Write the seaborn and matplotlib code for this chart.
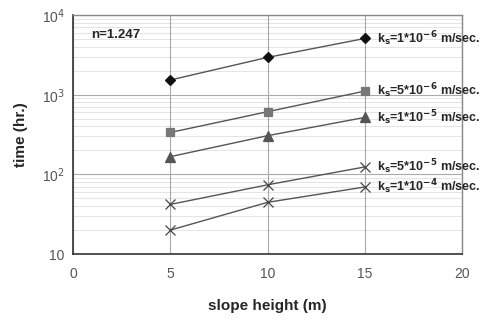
import numpy as np
import pandas as pd
import seaborn as sns
import matplotlib.pyplot as plt
from matplotlib.ticker import FixedLocator, FixedFormatter, LogLocator, NullFormatter

sns.set_style("white")
plt.rcParams['font.family'] = ['Liberation Sans', 'DejaVu Sans']

heights = [5, 10, 15]
t_1e6 = [1530, 2940, 5080]
t_5e6 = [336, 612, 1110]
t_1e5 = [167, 306, 519]
t_5e5 = [42, 74, 124]
t_1e4 = [20, 44.6, 69.5]

labels = [r"k$_\mathbf{s}$=1*10$^{\mathbf{-6}}$ m/sec.",
          r"k$_\mathbf{s}$=5*10$^{\mathbf{-6}}$ m/sec.",
          r"k$_\mathbf{s}$=1*10$^{\mathbf{-5}}$ m/sec.",
          r"k$_\mathbf{s}$=5*10$^{\mathbf{-5}}$ m/sec.",
          r"k$_\mathbf{s}$=1*10$^{\mathbf{-4}}$ m/sec."]
series = [t_1e6, t_5e6, t_1e5, t_5e5, t_1e4]
markers = ['D', 's', '^', 'x', 'x']
mcolors = ['#111111', '#777777', '#555555', '#444444', '#444444']
msizes = [5, 6, 7, 7, 7]

fig = plt.figure(figsize=(5.01, 3.2), dpi=100)
ax = fig.add_axes([0.146, 0.206, 0.776, 0.747])

for vals, lab, m, c, s in zip(series, labels, markers, mcolors, msizes):
    df = pd.DataFrame({'h': heights, 't': vals})
    sns.lineplot(data=df, x='h', y='t', ax=ax, color='#555555', lw=1.0,
                 marker=m, markersize=s, markerfacecolor=c, markeredgecolor=c,
                 markeredgewidth=0.9)
    ax.text(heights[-1] + 0.65, vals[-1], lab, fontsize=9, fontweight='bold',
            va='center', ha='left', clip_on=False)

ax.set_yscale('log')
ax.set_xlim(0, 20)
ax.set_ylim(10, 1e4)
ax.set_xticks([0, 5, 10, 15, 20])
ax.yaxis.set_major_locator(FixedLocator([10, 100, 1000, 10000]))
ax.yaxis.set_major_formatter(FixedFormatter(['10', r'10$^2$', r'10$^3$', r'10$^4$']))
ax.yaxis.set_minor_locator(LogLocator(base=10, subs=np.arange(2, 10)))
ax.yaxis.set_minor_formatter(NullFormatter())

ax.grid(True, which='major', axis='both', color='#aaaaaa', lw=0.8, ls='-')
ax.grid(True, which='minor', axis='y', color='black', alpha=0.1, lw=0.8, ls='-')
ax.set_axisbelow(True)
ax.tick_params(axis='both', which='both', length=0, labelcolor='#555555', labelsize=10)
ax.tick_params(axis='x', pad=9)
ax.tick_params(axis='y', pad=6)

for side in ['left', 'bottom']:
    ax.spines[side].set_color('#333333')
    ax.spines[side].set_linewidth(1.2)
for side in ['top', 'right']:
    ax.spines[side].set_color('#888888')
    ax.spines[side].set_linewidth(1.0)

ax.set_xlabel('slope height (m)', fontsize=11, fontweight='bold', labelpad=13)
ax.set_ylabel('time (hr.)', fontsize=11, fontweight='bold', labelpad=10)
ax.text(0.045, 0.915, 'n=1.247', transform=ax.transAxes, fontsize=9.5,
        fontweight='bold', va='center', ha='left')

fig.savefig('out.png', dpi=100)
